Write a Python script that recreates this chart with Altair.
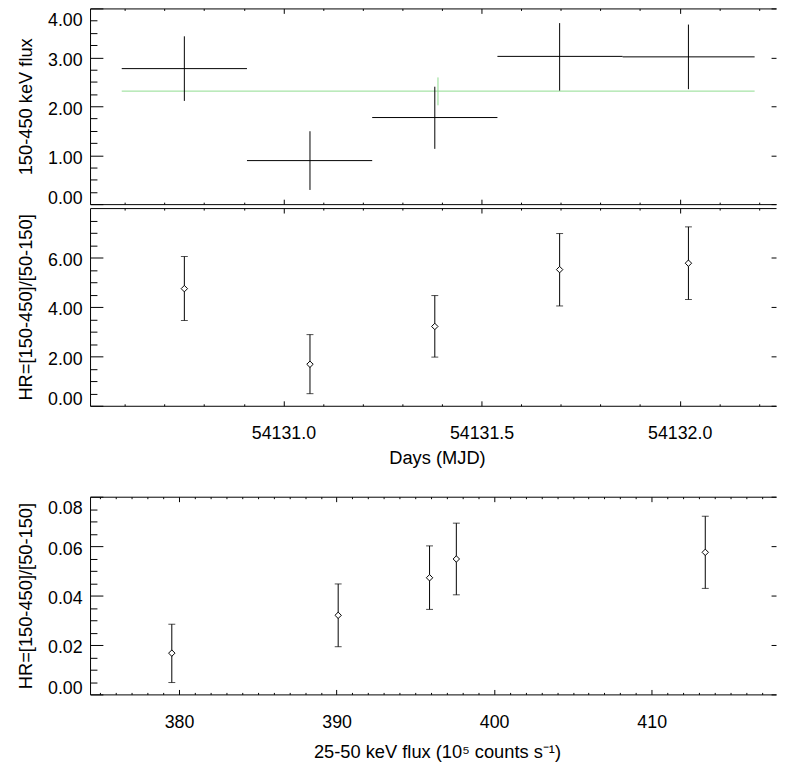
import altair as alt
import pandas as pd

FONT = "Liberation Sans"
GREEN = "#8fdc8f"

# ---------------- data ----------------
# top panel: 150-450 keV flux vs MJD (time bins)
mjd = [54130.750, 54131.067, 54131.382, 54131.697, 54132.022]
bin_lo = [54130.592, 54130.908, 54131.224, 54131.540, 54131.856]
bin_hi = [54130.908, 54131.224, 54131.540, 54131.856, 54132.189]
flux_hard = [2.77, 0.89, 1.77, 3.02, 3.01]
flux_hard_lo = [2.11, 0.29, 1.13, 2.32, 2.35]
flux_hard_hi = [3.43, 1.49, 2.40, 3.70, 3.67]

# mean level (green)
mean_level = [2.31]
mean_x0 = [54130.592]
mean_x1 = [54132.189]
mean_err_x = [54131.390]
mean_err_lo = [2.02]
mean_err_hi = [2.59]

# middle panel: hardness ratio vs MJD
hr = [4.74, 1.68, 3.21, 5.51, 5.77]
hr_lo = [3.45, 0.49, 1.97, 4.04, 4.30]
hr_hi = [6.04, 2.88, 4.46, 6.97, 7.24]

# bottom panel: hardness ratio vs 25-50 keV flux
flux_soft = [379.54, 390.10, 395.90, 397.60, 413.40]
hr2 = [0.0167, 0.0320, 0.0472, 0.0548, 0.0575]
hr2_lo = [0.0048, 0.0193, 0.0344, 0.0403, 0.0429]
hr2_hi = [0.0284, 0.0447, 0.0601, 0.0693, 0.0721]

# axis domains and tick values
mjd_domain = [54130.512, 54132.243]
mjd_major = [54131.0, 54131.5, 54132.0]
mjd_minor = [54130.6, 54130.7, 54130.8, 54130.9, 54131.1, 54131.2, 54131.3,
             54131.4, 54131.6, 54131.7, 54131.8, 54131.9, 54132.1, 54132.2]

top_y_domain = [0, 4]
top_y_major = [0, 1, 2, 3, 4]
top_y_minor = [0.25, 0.5, 0.75, 1.25, 1.5, 1.75, 2.25, 2.5, 2.75, 3.25, 3.5, 3.75]

mid_y_domain = [0, 8]
mid_y_major = [0, 2, 4, 6]
mid_y_minor = [0.5, 1, 1.5, 2.5, 3, 3.5, 4.5, 5, 5.5, 6.5, 7, 7.5]

bot_x_domain = [374.35, 417.89]
bot_x_major = [380, 390, 400, 410]
bot_x_minor = [375, 376, 377, 378, 379, 381, 382, 383, 384, 385, 386, 387, 388, 389,
               391, 392, 393, 394, 395, 396, 397, 398, 399, 401, 402, 403, 404, 405,
               406, 407, 408, 409, 411, 412, 413, 414, 415, 416, 417]
bot_y_domain = [0, 0.08]
bot_y_major = [0, 0.02, 0.04, 0.06, 0.08]
bot_y_minor = [0.005, 0.01, 0.015, 0.025, 0.03, 0.035, 0.045, 0.05, 0.055,
               0.065, 0.07, 0.075]

top_df = pd.DataFrame({"mjd": mjd, "lo": bin_lo, "hi": bin_hi, "flux": flux_hard,
                       "flux_lo": flux_hard_lo, "flux_hi": flux_hard_hi})
mean_df = pd.DataFrame({"x0": mean_x0, "x1": mean_x1, "xe": mean_err_x,
                        "level": mean_level, "elo": mean_err_lo, "ehi": mean_err_hi})
mid_df = pd.DataFrame({"mjd": mjd, "hr": hr, "hr_lo": hr_lo, "hr_hi": hr_hi})
bot_df = pd.DataFrame({"flux": flux_soft, "hr": hr2, "hr_lo": hr2_lo, "hr_hi": hr2_hi})

W = 694
HR_TITLE = "HR=[150-450]/[50-150]"


def panel(df, xf, yf, xdom, ydom, xmaj, xmin, ymaj, ymin, yfmt, ytitle,
          xfmt, xtitle, xlabels, title_pad, height, data_layers):
    xs = alt.Scale(domain=xdom, nice=False, zero=False)
    ys = alt.Scale(domain=ydom, nice=False, zero=False)
    carrier = alt.Chart(df).mark_point(opacity=0)

    def c(xa, ya):
        return carrier.encode(
            x=alt.X(xf, type="quantitative", scale=xs, axis=xa),
            y=alt.Y(yf, type="quantitative", scale=ys, axis=ya),
        )

    if xlabels:
        x_major = alt.Axis(orient="bottom", values=xmaj, format=xfmt, tickSize=5,
                           offset=-5, domain=False, labelPadding=19, labelFlush=False,
                           title=xtitle, titleX=351, titlePadding=title_pad)
    else:
        x_major = alt.Axis(orient="bottom", values=xmaj, tickSize=5, offset=-5,
                           domain=False, labels=False, title=None)
    y_major = alt.Axis(orient="left", values=ymaj, format=yfmt, tickSize=13,
                       offset=-13, domain=False, labelPadding=8, labelFlush=True,
                       labelFlushOffset=0, labelOffset=3, title=ytitle,
                       titleX=-78.5, titleAngle=270, titleBaseline="middle")
    x_minor = alt.Axis(orient="bottom", values=xmin, tickSize=2, offset=-2,
                       domain=False, labels=False, title=None)
    y_minor = alt.Axis(orient="left", values=ymin, tickSize=7, offset=-7,
                       domain=False, labels=False, title=None)
    x_top_major = alt.Axis(orient="top", values=xmaj, tickSize=5, offset=-5,
                           domain=False, labels=False, title=None)
    y_right_major = alt.Axis(orient="right", values=ymaj, tickSize=5, offset=-5,
                             domain=False, labels=False, title=None)
    x_top_minor = alt.Axis(orient="top", values=xmin, tickSize=2, offset=-2,
                           domain=False, labels=False, title=None)
    x_frame_b = alt.Axis(orient="bottom", domain=True, ticks=False, labels=False, title=None)
    y_frame_l = alt.Axis(orient="left", domain=True, ticks=False, labels=False, title=None)
    x_frame_t = alt.Axis(orient="top", domain=True, ticks=False, labels=False, title=None)

    layers = data_layers(xs, ys) + [
        c(x_major, y_major),
        c(x_minor, y_minor),
        c(x_top_major, y_right_major),
        c(x_top_minor, None),
        c(x_frame_b, y_frame_l),
        c(x_frame_t, None),
    ]
    return alt.layer(*layers).resolve_axis(x="independent", y="independent").properties(
        width=W, height=height)


def top_layers(xs, ys):
    base = alt.Chart(top_df)
    h = base.mark_rule(color="black", strokeWidth=1).encode(
        x=alt.X("lo:Q", scale=xs, axis=None), x2="hi",
        y=alt.Y("flux:Q", scale=ys, axis=None))
    v = base.mark_rule(color="black", strokeWidth=1).encode(
        x=alt.X("mjd:Q", scale=xs, axis=None),
        y=alt.Y("flux_lo:Q", scale=ys, axis=None), y2="flux_hi")
    mbase = alt.Chart(mean_df)
    g = mbase.mark_rule(color=GREEN, strokeWidth=1).encode(
        x=alt.X("x0:Q", scale=xs, axis=None), x2="x1",
        y=alt.Y("level:Q", scale=ys, axis=None))
    ge = mbase.mark_rule(color=GREEN, strokeWidth=1).encode(
        x=alt.X("xe:Q", scale=xs, axis=None),
        y=alt.Y("elo:Q", scale=ys, axis=None), y2="ehi")
    return [g, ge, h, v]


def hr_layers(df, xf):
    def build(xs, ys):
        base = alt.Chart(df)
        bar = base.mark_rule(color="black", strokeWidth=1).encode(
            x=alt.X(f"{xf}:Q", scale=xs, axis=None),
            y=alt.Y("hr_lo:Q", scale=ys, axis=None), y2="hr_hi")
        cap_lo = base.mark_tick(orient="horizontal", size=7, thickness=1, color="black").encode(
            x=alt.X(f"{xf}:Q", scale=xs, axis=None),
            y=alt.Y("hr_lo:Q", scale=ys, axis=None))
        cap_hi = base.mark_tick(orient="horizontal", size=7, thickness=1, color="black").encode(
            x=alt.X(f"{xf}:Q", scale=xs, axis=None),
            y=alt.Y("hr_hi:Q", scale=ys, axis=None))
        pts = base.mark_point(shape="diamond", size=42, filled=True, fill="white",
                              stroke="black", strokeWidth=1, opacity=1).encode(
            x=alt.X(f"{xf}:Q", scale=xs, axis=None),
            y=alt.Y("hr:Q", scale=ys, axis=None))
        return [bar, cap_lo, cap_hi, pts]
    return build


top = panel(top_df, "mjd", "flux", mjd_domain, top_y_domain, mjd_major, mjd_minor,
            top_y_major, top_y_minor, ".2f", "150-450 keV flux", ".1f", None, False,
            6, 198, top_layers)
mid = panel(mid_df, "mjd", "hr", mjd_domain, mid_y_domain, mjd_major, mjd_minor,
            mid_y_major, mid_y_minor, ".2f", HR_TITLE, ".1f", "Days (MJD)", True,
            6, 200, hr_layers(mid_df, "mjd"))
bot = panel(bot_df, "flux", "hr", bot_x_domain, bot_y_domain, bot_x_major, bot_x_minor,
            bot_y_major, bot_y_minor, ".2f", HR_TITLE, "d",
            "25-50 keV flux (10\u2075 counts s\u207b\u00b9)", True, 12, 200,
            hr_layers(bot_df, "flux"))

upper = alt.vconcat(top, mid, spacing=0)
chart = alt.vconcat(upper, bot, spacing=29).properties(
    padding={"left": 8, "top": -5, "right": 0, "bottom": 0}
).configure_axis(
    grid=False, labelFont=FONT, labelFontSize=18, labelColor="black",
    titleFont=FONT, titleFontSize=18.5, titleFontWeight="normal", titleColor="black",
    tickColor="black", tickWidth=1, domainColor="black", domainWidth=1,
).configure_view(strokeWidth=0)

chart.save("out.html", embed_options={"renderer": "svg", "actions": False})
